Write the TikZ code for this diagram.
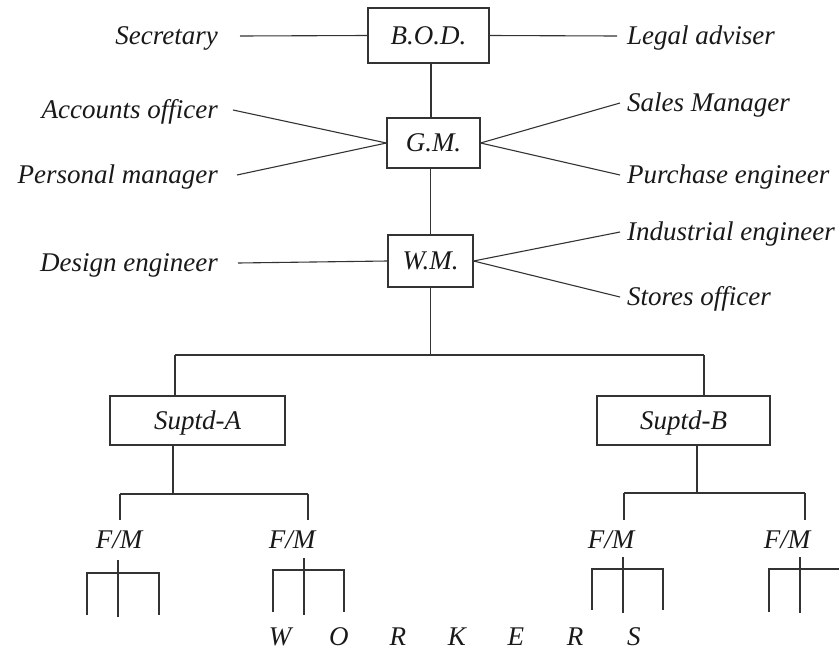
\documentclass[tikz,border=0pt]{standalone}
\usepackage{fontspec}
\setmainfont{Liberation Serif}
\begin{document}
\begin{tikzpicture}[x=1pt,y=-1pt,
  every node/.style={font=\fontsize{27}{32}\selectfont\itshape, text=black!90},
  link/.style={draw=black!80, line width=1.1pt},
  post/.style={draw=black!80, line width=1.1pt, inner sep=0pt,
               text height=17.5pt, text depth=0pt},
  lbl/.style={text height=16pt, text depth=0pt, inner ysep=2pt},
  leftlbl/.style={lbl, anchor=east},
  rightlbl/.style={lbl, anchor=west},
  fmlbl/.style={text height=17.5pt, text depth=0pt, inner ysep=11pt, inner xsep=0pt},
]
\useasboundingbox (0,0) rectangle (839,651);

% management posts
\node[post, minimum width=121pt, minimum height=55pt] (bod) at (428.5,35.5) {B.O.D.};
\node[post, minimum width=93pt,  minimum height=50pt] (gm)  at (433.5,143)  {G.M.};
\node[post, minimum width=85pt,  minimum height=52pt] (wm)  at (430.5,261)  {W.M.};
\node[post, minimum width=175pt, minimum height=49pt] (sa)  at (197.5,420.5) {Suptd-A};
\node[post, minimum width=173pt, minimum height=49pt] (sb)  at (683.5,420.5) {Suptd-B};

% staff on the left
\node[leftlbl, inner xsep=22pt] (sec)  at (240,36)  {Secretary};
\node[leftlbl, inner xsep=15pt] (acc)  at (233,110) {Accounts officer};
\node[leftlbl, inner xsep=19pt] (pers) at (237,175) {Personal manager};
\node[leftlbl, inner xsep=20pt] (des)  at (238,263) {Design engineer};

% staff on the right
\node[rightlbl, inner xsep=10pt] (legal) at (617,36)  {Legal adviser};
\node[rightlbl, inner xsep=7pt]  (sales) at (620,103) {Sales Manager};
\node[rightlbl, inner xsep=7pt]  (purch) at (620,175) {Purchase engineer};
\node[rightlbl, inner xsep=7pt]  (ind)   at (620,232) {Industrial engineer};
\node[rightlbl, inner xsep=7pt]  (store) at (620,297) {Stores officer};

% staff links
\draw[link] (sec.east) -- (bod.west);
\draw[link] (bod.east) -- (legal.west);
\draw[link] (acc.east) -- (gm.west);
\draw[link] (pers.east) -- (gm.west);
\draw[link] (gm.east) -- (sales.west);
\draw[link] (gm.east) -- (purch.west);
\draw[link] (des.east) -- (wm.west);
\draw[link] (wm.east) -- (ind.west);
\draw[link] (wm.east) -- (store.west);

% line of command
\draw[link] ([xshift=2.5pt]bod.south) -- ([xshift=2.5pt]bod.south |- gm.north);
\draw[link] (gm.south -| wm.north) -- (wm.north);
\coordinate (jw) at (430.5,355);
\coordinate (jwa) at (175,355);
\coordinate (jwb) at (704,355);
\draw[link] (wm.south) -- (jw);
\draw[link] (jwa) -- (jwb);
\draw[link] (jwa) -- (jwa |- sa.north);
\draw[link] (jwb) -- (jwb |- sb.north);

% foremen
\node[fmlbl] (fm1) at (119,540) {F/M};
\node[fmlbl] (fm2) at (292,540) {F/M};
\node[fmlbl] (fm3) at (611,540) {F/M};
\node[fmlbl] (fm4) at (787,540) {F/M};

% Suptd-A branch
\coordinate (ja)  at (173,494);
\coordinate (ja1) at (120,494);
\coordinate (ja2) at (308,494);
\draw[link] (sa.south -| ja) -- (ja);
\draw[link] (ja1) -- (ja2);
\draw[link] (ja1) -- (ja1 |- fm1.north);
\draw[link] (ja2) -- (ja2 |- fm2.north);

% Suptd-B branch
\coordinate (jb)  at (697,493);
\coordinate (jb1) at (624,493);
\coordinate (jb2) at (805,493);
\draw[link] (sb.south -| jb) -- (jb);
\draw[link] (jb1) -- (jb2);
\draw[link] (jb1) -- (jb1 |- fm3.north);
\draw[link] (jb2) -- (jb2 |- fm4.north);

% workers under each foreman
\draw[link] (118,560) -- (118,617);
\draw[link] (87,615) -- (87,573) -- (159,573) -- (159,615);
\draw[link] (304,558) -- (304,615);
\draw[link] (273,612) -- (273,570) -- (344,570) -- (344,612);
\draw[link] (623,557) -- (623,613);
\draw[link] (592,610) -- (592,569) -- (663,569) -- (663,610);
\draw[link] (800,557) -- (800,613);
\draw[link] (769,612) -- (769,569) -- (839,569);

\node[anchor=base, inner sep=0pt] (workers) at (457,645)
  {\makebox[59pt]{W}\makebox[59pt]{O}\makebox[59pt]{R}\makebox[59pt]{K}\makebox[59pt]{E}\makebox[59pt]{R}\makebox[59pt]{S}};
\end{tikzpicture}
\end{document}
